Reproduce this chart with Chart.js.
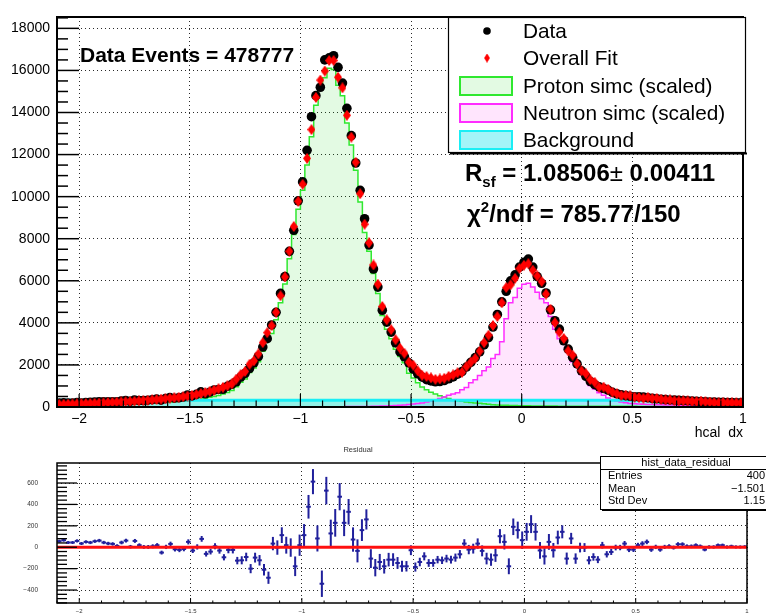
<!DOCTYPE html>
<html>
<head>
<meta charset="utf-8">
<title>hcal dx fit</title>
<script src="https://cdn.jsdelivr.net/npm/chart.js@4.4.1/dist/chart.umd.min.js"></script>
<style>
  html, body { margin: 0; padding: 0; background: #fff; }
  #wrap { position: relative; width: 766px; height: 613px; overflow: hidden; background: #fff; }
  #wrap canvas { position: absolute; left: 0; }
  #mainPad { top: 0; }
  #residPad { top: 445px; }
</style>
</head>
<body>
<div id="wrap">
  <canvas id="mainPad" width="766" height="445"></canvas>
  <canvas id="residPad" width="766" height="168"></canvas>
</div>
<script>
const FONT = '"Liberation Sans", Arial, Helvetica, sans-serif';

// hcal dx binning
const binLow = -2.1;
const binWidth = 0.02;

// counts per bin
const dataCounts = [
  186,199,182,187,209,193,216,219,239,252,
  244,245,253,244,284,312,267,334,309,308,
  323,347,374,325,398,446,419,437,474,570,
  524,598,718,628,704,809,834,841,985,1075,
  1200,1420,1600,1830,2100,2400,2850,3250,3900,4500,
  5400,6200,7400,8400,9800,10700,12200,13800,14800,15200,
  16500,16600,16700,16150,15400,14200,12900,11600,10300,8950,
  7700,6560,5700,4600,4030,3560,3050,2620,2380,2100,
  1800,1580,1420,1300,1240,1200,1210,1260,1340,1430,
  1560,1680,1900,2120,2350,2620,2950,3300,3800,4400,
  5000,5500,6000,6280,6650,6880,7030,6650,6200,5880,
  5420,4620,4100,3700,3150,2750,2360,2050,1720,1460,
  1210,1060,960,880,800,700,630,580,540,510,
  490,485,470,440,410,390,370,350,335,325,
  315,305,295,285,270,255,250,240,230,222,
  218,212,208,205,200
];

const fitCounts = [
  130,133,138,143,150,158,166,175,183,190,
  200,210,222,232,240,250,262,275,290,305,
  320,338,355,375,395,415,438,462,490,520,
  555,595,640,690,745,800,865,935,1010,1100,
  1325,1542,1691,2030,2197,2522,3060,3535,3866,4503,
  5287,6181,7403,8578,9781,10587,11822,13187,14718,15541,
  15971,16471,16472,15678,15172,13869,12828,11634,10140,8690,
  7806,6751,5838,4778,4146,3676,3197,2798,2558,2128,
  1985,1718,1505,1447,1387,1316,1332,1366,1456,1527,
  1626,1646,1922,2133,2316,2654,3056,3416,3875,4297,
  4950,5678,5809,6120,6584,6736,6814,6506,6230,5965,
  5370,4648,4009,3556,3256,2668,2466,2053,1723,1582,
  1301,1176,941,946,844,703,633,546,562,532,
  471,451,420,462,407,412,367,341,338,297,
  287,296,286,266,261,277,247,237,211,203,
  215,203,205,202,195
];

const protonSimc = [
  70,72,75,78,82,86,90,95,100,105,
  110,115,120,126,132,140,148,155,162,170,
  180,190,200,212,225,238,252,268,285,305,
  330,355,385,420,460,500,550,620,690,780,
  960,1180,1330,1640,1850,2150,2650,3150,3500,4150,
  4950,5850,7050,8200,9400,10300,11500,12850,14350,15200,
  15650,16100,16050,15300,14800,13500,12450,11250,9750,8300,
  7400,6350,5400,4350,3700,3250,2750,2400,2100,1600,
  1380,1150,950,820,700,620,540,470,410,350,
  300,270,240,210,190,175,160,130,110,95,
  85,78,72,66,62,58,55,52,50,48,
  46,44,42,41,40,39,38,37,36,35,
  34,34,33,33,32,32,31,31,30,30,
  30,29,29,29,28,28,28,27,27,27,
  26,26,26,25,25,25,24,24,24,23,
  23,23,22,22,22
];

const neutronSimc = [
  5,5,5,5,5,5,5,5,5,5,
  5,5,5,5,5,5,5,5,5,5,
  5,5,5,6,6,6,6,6,6,6,
  7,7,7,7,7,8,8,8,8,8,
  8,9,9,9,9,9,10,10,10,10,
  10,11,11,11,12,12,12,13,13,14,
  14,15,15,16,17,18,18,20,22,25,
  28,32,38,45,52,60,70,82,95,115,
  140,165,195,240,290,350,410,480,560,620,
  680,820,930,1150,1300,1500,1720,1900,2300,2500,
  3100,4200,4950,5200,5650,5830,5880,5700,5450,5150,
  4950,4300,3700,3250,3150,2650,2150,1950,1550,1350,
  1020,850,680,560,430,360,290,240,200,172,
  155,140,130,122,116,110,105,100,95,92,
  88,85,82,80,78,76,74,72,70,68,
  66,64,62,60,58
];

const backgroundCounts = [
  320,320,320,320,320,320,320,320,320,320,
  320,320,320,320,320,320,320,320,320,320,
  320,320,320,320,320,320,320,320,320,320,
  320,320,320,320,320,320,320,320,320,320,
  320,320,320,320,320,320,320,320,320,320,
  320,320,320,320,320,320,320,320,320,320,
  320,320,320,320,320,320,320,320,320,320,
  320,320,320,320,320,320,320,320,320,320,
  320,320,320,320,320,320,320,320,320,320,
  320,320,320,320,320,320,320,320,320,320,
  320,320,320,320,320,320,320,320,320,320,
  320,320,320,320,320,320,320,320,320,320,
  320,320,320,320,320,320,320,320,320,320,
  320,320,320,320,320,320,320,320,320,320,
  320,320,320,320,320,320,320,320,320,320,
  320,320,320,320,320
];

// axis ticks
const mainXTicks = [-2, -1.5, -1, -0.5, 0, 0.5, 1];
const mainYTicks = [0, 2000, 4000, 6000, 8000, 10000, 12000, 14000, 16000, 18000];
const residYTicks = [-400, -200, 0, 200, 400, 600];

const legendLabels = ['Data', 'Overall Fit', 'Proton simc (scaled)', 'Neutron simc (scaled)', 'Background'];

// ---------------------------------------------------------------
const binCenters = dataCounts.map((_, i) => binLow + (i + 0.5) * binWidth);
const binEdges = dataCounts.map((_, i) => binLow + i * binWidth).concat([binLow + dataCounts.length * binWidth]);

// residual = data - fit, error bar = Poisson error of the data
const residuals = dataCounts.map((d, i) => d - fitCounts[i]);
const residErrors = dataCounts.map(d => Math.sqrt(d));

function histPoints(values) {
  const pts = [];
  values.forEach((v, i) => {
    pts.push({ x: binEdges[i], y: v });
    pts.push({ x: binEdges[i + 1], y: v });
  });
  return pts;
}
function markerPoints(values) {
  return values.map((v, i) => ({ x: binCenters[i], y: v }));
}
const fmtTick = v => String(+Number(v).toFixed(4)).replace('-', '\u2212');

const PROTON_LINE = '#2fe82f', PROTON_FILL = 'rgba(0, 205, 0, 0.11)';
const NEUTRON_LINE = '#ff2cff', NEUTRON_FILL = 'rgba(255, 0, 235, 0.10)';
const BG_LINE = '#1aeef5', BG_FILL = 'rgba(0, 225, 235, 0.36)';
const RESID_BLUE = '#20209c';

// red diamond marker of the fit
const diamond = document.createElement('canvas');
diamond.width = 8; diamond.height = 11;
(function () {
  const d = diamond.getContext('2d');
  d.fillStyle = '#ff0000';
  d.beginPath();
  d.moveTo(4, 0); d.lineTo(8, 5.5); d.lineTo(4, 11); d.lineTo(0, 5.5);
  d.closePath(); d.fill();
})();

Chart.defaults.font.family = FONT;

// frame and inward tick marks, ROOT style
function axisDecor(o) {
  return {
    id: 'axisDecor',
    afterDatasetsDraw(chart) {
      const { ctx, chartArea: a, scales } = chart;
      const xs = scales.x, ys = scales.y;
      ctx.save();
      ctx.strokeStyle = '#000';
      ctx.lineWidth = o.yTickWidth;
      for (let k = Math.ceil(ys.min / o.yStep - 1e-9); k <= Math.floor(ys.max / o.yStep + 1e-9); k++) {
        const py = ys.getPixelForValue(k * o.yStep);
        const len = (k % o.yMajorEvery === 0) ? o.yMajorLen : o.yMinorLen;
        ctx.beginPath(); ctx.moveTo(a.left, py); ctx.lineTo(a.left + len, py); ctx.stroke();
      }
      ctx.lineWidth = o.xTickWidth;
      for (let k = Math.ceil(xs.min / o.xStep - 1e-9); k <= Math.floor(xs.max / o.xStep + 1e-9); k++) {
        const px = xs.getPixelForValue(k * o.xStep);
        const len = (k % o.xMajorEvery === 0) ? o.xMajorLen : o.xMinorLen;
        ctx.beginPath(); ctx.moveTo(px, a.bottom); ctx.lineTo(px, a.bottom - len); ctx.stroke();
      }
      ctx.lineWidth = o.frameWidth;
      ctx.strokeRect(a.left, a.top, a.right - a.left, a.bottom - a.top);
      ctx.restore();
    }
  };
}

function textRuns(ctx, x, y, parts) {
  ctx.textAlign = 'left';
  ctx.textBaseline = 'alphabetic';
  for (const p of parts) {
    ctx.font = p.f;
    ctx.fillText(p.t, x, y + (p.dy || 0));
    x += ctx.measureText(p.t).width;
  }
}

const mainNotes = {
  id: 'mainNotes',
  afterDraw(chart) {
    const ctx = chart.ctx;
    const a = chart.chartArea;
    ctx.save();
    ctx.fillStyle = '#000';

    textRuns(ctx, 80, 62, [{ t: 'Data Events = 478777', f: `bold 21px ${FONT}` }]);

    textRuns(ctx, 465, 181, [
      { t: 'R', f: `bold 24px ${FONT}` },
      { t: 'sf', f: `bold 15px ${FONT}`, dy: 6 },
      { t: ' = 1.08506', f: `bold 24px ${FONT}` },
      { t: '\u00b1', f: `24px ${FONT}` },
      { t: ' 0.00411', f: `bold 24px ${FONT}` }
    ]);
    textRuns(ctx, 467, 222, [
      { t: '\u03c7', f: `bold 24px ${FONT}` },
      { t: '2', f: `bold 15px ${FONT}`, dy: -10 },
      { t: '/ndf = 785.77/150', f: `bold 24px ${FONT}` }
    ]);

    // x axis title
    ctx.font = `14px ${FONT}`;
    ctx.textAlign = 'right';
    ctx.textBaseline = 'alphabetic';
    ctx.fillText('hcal  dx', a.right, 437);

    // legend
    const lx = 448, ly = 17, lw = 298, lh = 136;
    ctx.fillStyle = '#fff';
    ctx.fillRect(lx, ly, lw, lh);
    ctx.strokeStyle = '#000';
    ctx.lineWidth = 1.2;
    ctx.strokeRect(lx + 0.5, ly + 0.5, lw - 1, lh - 1);
    ctx.lineWidth = 2;
    ctx.beginPath(); ctx.moveTo(lx + 2, ly + lh + 0.5); ctx.lineTo(lx + lw + 1, ly + lh + 0.5); ctx.stroke();

    const rows = [31, 58, 86, 113, 140];
    const symX = 487, textX = 523;
    // Data
    ctx.fillStyle = '#000';
    ctx.beginPath(); ctx.arc(symX, rows[0], 3.8, 0, Math.PI * 2); ctx.fill();
    // Overall Fit
    ctx.drawImage(diamond, symX - 3, rows[1] - 4.5, 6, 9);
    // filled boxes
    const boxes = [
      [rows[2], PROTON_FILL, PROTON_LINE],
      [rows[3], NEUTRON_FILL, NEUTRON_LINE],
      [rows[4], BG_FILL, BG_LINE]
    ];
    for (const [cy, fill, line] of boxes) {
      ctx.fillStyle = fill;
      ctx.fillRect(460, cy - 9, 52, 18);
      ctx.strokeStyle = line;
      ctx.lineWidth = 2;
      ctx.strokeRect(460, cy - 9, 52, 18);
    }
    ctx.fillStyle = '#000';
    ctx.font = `20.8px ${FONT}`;
    ctx.textAlign = 'left';
    ctx.textBaseline = 'middle';
    legendLabels.forEach((lab, i) => ctx.fillText(lab, textX, rows[i] + 1));
    ctx.restore();
  }
};

const dottedGrid = { color: '#2a2a2a', lineWidth: 1, drawTicks: false };
const dottedBorder = { display: false, dash: [1, 3] };

new Chart(document.getElementById('mainPad'), {
  type: 'line',
  data: {
    datasets: [
      { label: legendLabels[1], data: markerPoints(fitCounts), showLine: false,
        pointStyle: diamond, pointRadius: 4, pointHoverRadius: 4 },
      { label: legendLabels[0], data: markerPoints(dataCounts), showLine: false,
        pointStyle: 'circle', pointRadius: 4.8, pointHoverRadius: 4.8,
        pointBackgroundColor: '#000', pointBorderColor: '#000', pointBorderWidth: 0 },
      { label: legendLabels[4], data: histPoints(backgroundCounts), borderColor: BG_LINE, borderWidth: 3,
        backgroundColor: BG_FILL, fill: 'origin', pointRadius: 0, tension: 0 },
      { label: legendLabels[3], data: histPoints(neutronSimc), borderColor: NEUTRON_LINE, borderWidth: 1.5,
        backgroundColor: NEUTRON_FILL, fill: 'origin', pointRadius: 0, tension: 0 },
      { label: legendLabels[2], data: histPoints(protonSimc), borderColor: PROTON_LINE, borderWidth: 1.5,
        backgroundColor: PROTON_FILL, fill: 'origin', pointRadius: 0, tension: 0 }
    ]
  },
  options: {
    responsive: false, animation: false, devicePixelRatio: 1, events: [],
    layout: { padding: { top: 17, right: 23, left: 0, bottom: 0 } },
    plugins: { legend: { display: false }, tooltip: { enabled: false }, filler: { drawTime: 'beforeDatasetsDraw' } },
    scales: {
      x: {
        type: 'linear', min: -2.1, max: 1.0,
        afterBuildTicks: s => { s.ticks = mainXTicks.map(v => ({ value: v })); },
        afterFit: s => { s.height = 38; },
        ticks: { autoSkip: false, maxRotation: 0, padding: 4, color: '#000', font: { size: 14 }, callback: v => fmtTick(v) },
        grid: dottedGrid, border: dottedBorder
      },
      y: {
        type: 'linear', min: 0, max: 18540,
        afterBuildTicks: s => { s.ticks = mainYTicks.map(v => ({ value: v })); },
        afterFit: s => { s.width = 57; },
        ticks: { autoSkip: false, padding: 7, color: '#000', font: { size: 14 }, callback: v => fmtTick(v) },
        grid: dottedGrid, border: dottedBorder
      }
    }
  },
  plugins: [axisDecor({ frameWidth: 2, yStep: 500, yMajorEvery: 4, yMajorLen: 22, yMinorLen: 11, yTickWidth: 1.5,
                        xStep: 0.1, xMajorEvery: 5, xMajorLen: 13, xMinorLen: 6.5, xTickWidth: 1.2 }), mainNotes]
});

// residual pad
const residBars = {
  id: 'residBars',
  beforeDatasetsDraw(chart) {
    const { ctx, chartArea: a, scales: { x, y } } = chart;
    ctx.save();
    ctx.beginPath(); ctx.rect(a.left, a.top, a.right - a.left, a.bottom - a.top); ctx.clip();
    ctx.strokeStyle = RESID_BLUE;
    ctx.lineWidth = 2;
    residuals.forEach((r, i) => {
      const px = x.getPixelForValue(binCenters[i]);
      ctx.beginPath();
      ctx.moveTo(px, y.getPixelForValue(r + residErrors[i]));
      ctx.lineTo(px, y.getPixelForValue(r - residErrors[i]));
      ctx.stroke();
    });
    ctx.restore();
  }
};

const residNotes = {
  id: 'residNotes',
  afterDraw(chart) {
    const ctx = chart.ctx;
    ctx.save();
    ctx.fillStyle = '#333';
    ctx.font = `7.5px ${FONT}`;
    ctx.textAlign = 'center';
    ctx.textBaseline = 'middle';
    ctx.fillText('Residual', 358, 5);

    // statistics box
    const bx = 600, by = 11, bw = 170, bh = 53;
    ctx.fillStyle = '#fff';
    ctx.fillRect(bx, by, bw, bh);
    ctx.strokeStyle = '#000';
    ctx.lineWidth = 1;
    ctx.strokeRect(bx + 0.5, by + 0.5, bw, bh);
    ctx.lineWidth = 2;
    ctx.beginPath(); ctx.moveTo(bx + 2, by + bh + 1); ctx.lineTo(bx + bw, by + bh + 1); ctx.stroke();
    ctx.lineWidth = 1;
    ctx.beginPath(); ctx.moveTo(bx, by + 13.5); ctx.lineTo(bx + bw, by + 13.5); ctx.stroke();
    ctx.fillStyle = '#000';
    ctx.font = `11px ${FONT}`;
    ctx.textAlign = 'center';
    ctx.fillText('hist_data_residual', 686, by + 7);
    const statRows = [['Entries', '400'], ['Mean', '\u22121.501'], ['Std Dev', '1.15']];
    statRows.forEach(([k, v], i) => {
      const cy = by + 20 + i * 12.7;
      ctx.textAlign = 'left'; ctx.fillText(k, 608, cy);
      ctx.textAlign = 'right'; ctx.fillText(v, 765, cy);
    });
    ctx.restore();
  }
};

// label offsets come from invisible tick marks so the plot area keeps its size
const hiddenTickGrid = { color: '#2a2a2a', lineWidth: 1, drawTicks: true, tickLength: 19, tickColor: 'rgba(0,0,0,0)' };
const hiddenTickGridX = { color: '#2a2a2a', lineWidth: 1, drawTicks: true, tickLength: 5, tickColor: 'rgba(0,0,0,0)' };

new Chart(document.getElementById('residPad'), {
  type: 'line',
  data: {
    datasets: [
      { label: 'zero', data: [{ x: -2.1, y: 0 }, { x: 1.0, y: 0 }], borderColor: '#ff1010', borderWidth: 3,
        pointRadius: 0, fill: false },
      { label: 'hist_data_residual', data: residuals.map((r, i) => ({ x: binCenters[i], y: r })), showLine: false,
        pointStyle: 'line', pointRadius: 2.3, pointHoverRadius: 2.3,
        pointBorderColor: RESID_BLUE, pointBackgroundColor: RESID_BLUE, pointBorderWidth: 2 }
    ]
  },
  options: {
    responsive: false, animation: false, devicePixelRatio: 1, events: [],
    layout: { padding: { top: 18, right: 19, left: 0, bottom: 0 } },
    plugins: { legend: { display: false }, tooltip: { enabled: false } },
    scales: {
      x: {
        type: 'linear', min: -2.1, max: 1.0,
        afterBuildTicks: s => { s.ticks = mainXTicks.map(v => ({ value: v })); },
        afterFit: s => { s.height = 10; },
        ticks: { autoSkip: false, maxRotation: 0, padding: 0, color: '#333', font: { size: 6 }, callback: v => fmtTick(v) },
        grid: hiddenTickGridX, border: dottedBorder
      },
      y: {
        type: 'linear', min: -521, max: 787,
        afterBuildTicks: s => { s.ticks = residYTicks.map(v => ({ value: v })); },
        afterFit: s => { s.width = 57; },
        ticks: { autoSkip: false, padding: 0, color: '#333', font: { size: 6.5 }, callback: v => fmtTick(v) },
        grid: hiddenTickGrid, border: dottedBorder
      }
    }
  },
  plugins: [residBars, axisDecor({ frameWidth: 1.5, yStep: 40, yMajorEvery: 5, yMajorLen: 20, yMinorLen: 10, yTickWidth: 1.3,
                                   xStep: 0.1, xMajorEvery: 5, xMajorLen: 5, xMinorLen: 2.5, xTickWidth: 1 }), residNotes]
});
</script>
</body>
</html>
